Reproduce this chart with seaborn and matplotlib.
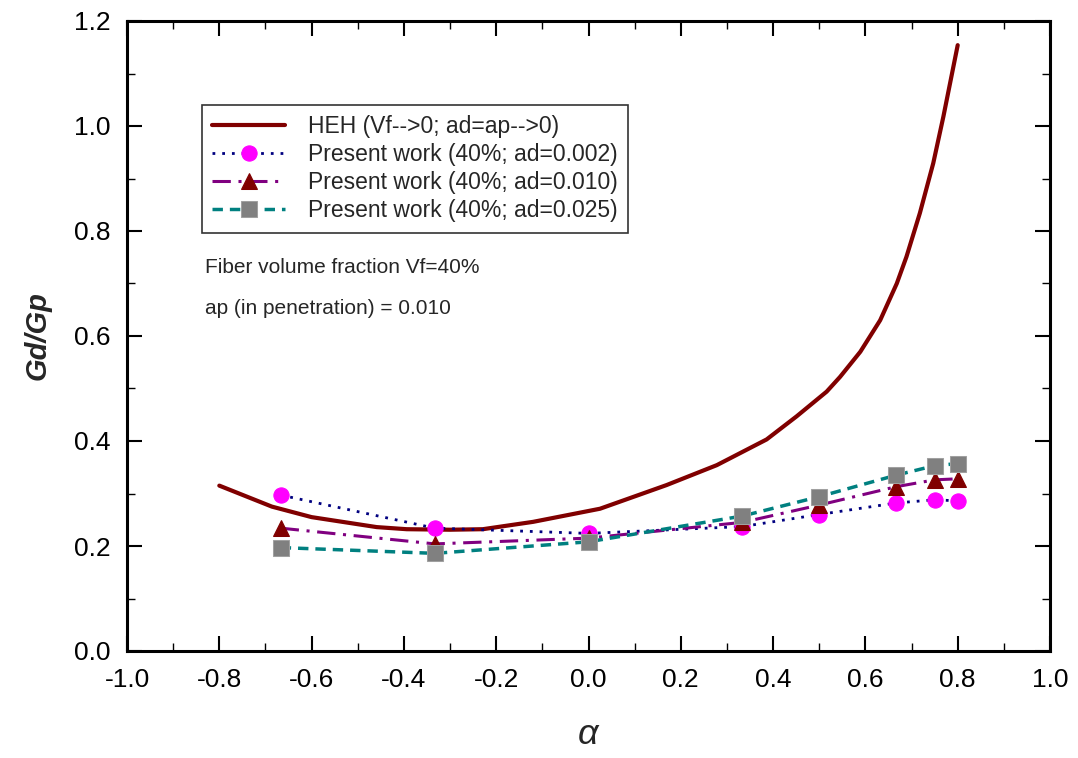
import numpy as np
import pandas as pd
import matplotlib
matplotlib.use("Agg")
import matplotlib.pyplot as plt
from matplotlib.ticker import MultipleLocator, FormatStrFormatter
import seaborn as sns

sns.set_style("white")
plt.rcParams['font.family'] = ['Liberation Sans', 'DejaVu Sans']
plt.rcParams['mathtext.fontset'] = 'custom'
plt.rcParams['mathtext.it'] = 'Liberation Sans:italic'

# HEH curve (Vf->0; ad=ap->0)
heh_x = [-0.80, -0.686, -0.60, -0.459, -0.394, -0.30, -0.229, -0.120, 0.025, 0.169,
         0.278, 0.386, 0.451, 0.516, 0.545, 0.589, 0.632, 0.668, 0.689, 0.718,
         0.747, 0.769, 0.80]
heh_y = [0.315, 0.275, 0.255, 0.236, 0.232, 0.231, 0.232, 0.246, 0.271, 0.316,
         0.354, 0.403, 0.447, 0.494, 0.522, 0.570, 0.630, 0.700, 0.751, 0.834,
         0.929, 1.018, 1.154]

alpha = [-0.667, -0.333, 0.0, 0.333, 0.5, 0.667, 0.75, 0.8]
gd_002 = [0.297, 0.234, 0.224, 0.237, 0.260, 0.282, 0.288, 0.286]
gd_010 = [0.234, 0.204, 0.215, 0.245, 0.278, 0.313, 0.326, 0.328]
gd_025 = [0.197, 0.186, 0.208, 0.257, 0.294, 0.335, 0.353, 0.357]

labels = ["HEH (Vf-->0; ad=ap-->0)",
          "Present work (40%; ad=0.002)",
          "Present work (40%; ad=0.010)",
          "Present work (40%; ad=0.025)"]

fig = plt.figure(figsize=(10.78, 7.58), dpi=100)
ax = fig.add_axes([127/1078, 1 - 651/758, (1050-127)/1078, (651-21)/758])

sns.lineplot(x=heh_x, y=heh_y, ax=ax, color="#800000", lw=3, label=labels[0], sort=False)
sns.lineplot(x=alpha, y=gd_002, ax=ax, color="#000080", lw=2, linestyle=(0, (1, 2.5)),
             marker="o", markersize=11, markerfacecolor="#ff00ff", markeredgecolor="#ff00ff",
             label=labels[1])
sns.lineplot(x=alpha, y=gd_010, ax=ax, color="#800080", lw=2.2, linestyle=(0, (6, 2.5, 1, 2.5)),
             marker="^", markersize=12, markerfacecolor="#800000", markeredgecolor="#800000",
             label=labels[2])
sns.lineplot(x=alpha, y=gd_025, ax=ax, color="#008080", lw=2.5, linestyle=(0, (3, 2)),
             marker="s", markersize=11, markerfacecolor="#808080", markeredgecolor="#a0a0a0",
             label=labels[3])

ax.set_xlim(-1.0, 1.0)
ax.set_ylim(0.0, 1.2)
ax.xaxis.set_major_locator(MultipleLocator(0.2))
ax.xaxis.set_minor_locator(MultipleLocator(0.1))
ax.yaxis.set_major_locator(MultipleLocator(0.2))
ax.yaxis.set_minor_locator(MultipleLocator(0.1))
ax.xaxis.set_major_formatter(FormatStrFormatter('%.1f'))
ax.yaxis.set_major_formatter(FormatStrFormatter('%.1f'))
ax.tick_params(which='both', direction='in', top=True, right=True, bottom=True, left=True,
               colors='black', labelsize=19)
ax.tick_params(which='major', length=11, width=1.5)
ax.tick_params(which='minor', length=6, width=1.0)
ax.tick_params(axis='x', which='major', pad=12)
ax.tick_params(axis='y', which='major', pad=12)
for s in ax.spines.values():
    s.set_color('black')
    s.set_linewidth(2.2)

ax.set_xlabel(r"$\it{\alpha}$", fontsize=26, labelpad=18)
ax.set_ylabel("Gd/Gp", fontsize=21, fontweight='bold', fontstyle='italic', labelpad=16)

ax.text(0.084, 1 - (268 - 21) / 630, "Fiber volume fraction Vf=40%", transform=ax.transAxes,
        fontsize=15, va='center', ha='left')
ax.text(0.084, 1 - (309 - 21) / 630, "ap (in penetration) = 0.010", transform=ax.transAxes,
        fontsize=15, va='center', ha='left')

leg = ax.legend(loc='upper left', bbox_to_anchor=(0.081, 0.867), borderaxespad=0,
                fontsize=16.5, frameon=True, fancybox=False, edgecolor='black',
                handlelength=3.2, handletextpad=1.0, labelspacing=0.22,
                borderpad=0.45)
leg.get_frame().set_linewidth(1.2)

fig.savefig("out.png", dpi=100)
